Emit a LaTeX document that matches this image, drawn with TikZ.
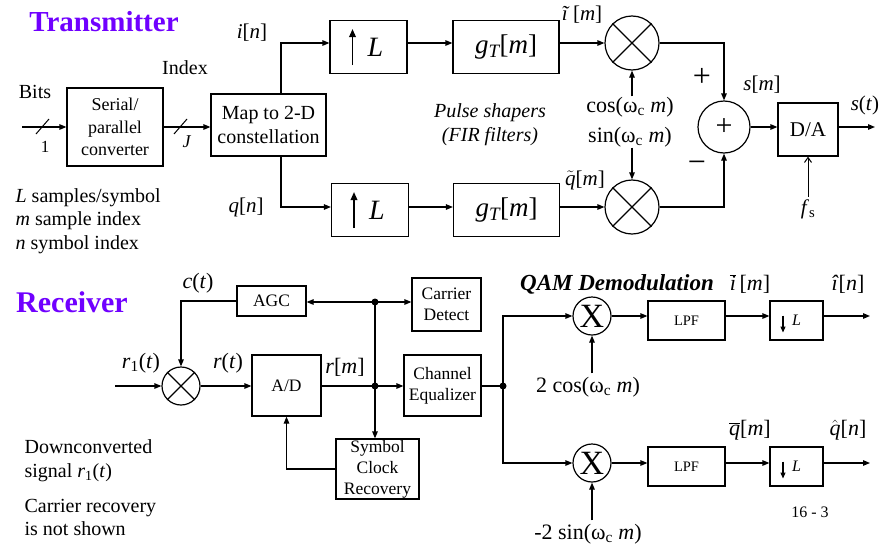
\documentclass[tikz,border=0pt]{standalone}
\usepackage{fontspec}
\setmainfont{Liberation Serif}
\usetikzlibrary{arrows.meta,calc}
\definecolor{titlecol}{RGB}{112,0,255}
\newcommand\fsz[2]{\fontsize{#1}{#2}\selectfont}
\newcommand\omc{ω\textsubscript{c}}
\begin{document}
\begin{tikzpicture}[x=1pt,y=-1pt,line width=1.2pt,
  blk/.style={draw,rectangle,inner sep=0pt,align=center},
  arr/.style={-{Triangle[length=7pt,width=5.5pt]}},
  uparr/.style={line width=1.7pt,-{Triangle[length=8pt,width=6.5pt]}},
  dnarr/.style={line width=1.1pt,-{Triangle[length=6pt,width=5pt]}},
  barb/.style={-{Straight Barb[length=5pt,width=7pt,line width=1pt]}},
  mult/.style={draw,circle,inner sep=0pt,minimum size=#1},
  lbl/.style={inner sep=0pt,font=\fsz{21}{25}},
  note/.style={inner sep=0pt,anchor=west,align=left,font=\fsz{20}{23.5}},
  dotn/.style={circle,fill,inner sep=0pt,minimum size=7pt},
  title/.style={inner sep=0pt,font=\fsz{29}{32}\bfseries,text=titlecol}]
\useasboundingbox (0,0) rectangle (882,546);
\coordinate (yi) at (0,43);
\coordinate (yq) at (0,207);
% ---------------- Transmitter ----------------
\node[title] (ttx) at (104,22) {Transmitter};
\node[lbl,font=\fsz{20}{24}] (bits) at (35,92) {Bits};
\node[lbl,font=\fsz{20}{24}] (index) at (185,68) {Index};
\node[blk,minimum width=96pt,minimum height=78pt,font=\fsz{18}{22.5}] (sp) at (115,127) {Serial/\\parallel\\converter};
\node[blk,minimum width=115pt,minimum height=62pt,font=\fsz{20}{24}] (map) at (268.5,125) {Map to 2-D\\constellation};
\coordinate (bin) at (22,127);
\draw[arr] (bin) -- (sp.west);
\draw[line width=1pt] (36,134) -- (49,119);
\node[lbl,font=\fsz{17}{20}] (one) at (45,147) {1};
\draw[arr] (sp.east) -- (map.west |- sp.east);
\draw[line width=1pt] (174,134) -- (187,119);
\node[lbl,font=\fsz{18}{20}] (jj) at (187,142) {\textit{J}};
\node[note] (legend) at (15,221) {\textit{L} samples/symbol\\\textit{m} sample index\\\textit{n} symbol index};
\coordinate (mapi) at (281,94);
\coordinate (mapq) at (281,156);
\node[lbl] (inl) at (252,33) {\textit{i}[\textit{n}]};
\node[lbl] (qnl) at (246,207) {\textit{q}[\textit{n}]};
\node[blk,minimum width=77pt,minimum height=53pt,font=\fsz{28}{30}] (upi) at (368.5,47) {\hspace*{14pt}\textit{L}};
\draw[uparr] ($(upi.center)+(-16,18)$) -- ++(0,-36);
\node[blk,minimum width=106pt,minimum height=53pt,font=\fsz{27}{30}] (gi) at (506,47) {\textit{g\textsubscript{T}}[\textit{m}]};
\node[blk,minimum width=77pt,minimum height=53pt,font=\fsz{28}{30}] (upq) at (370,210) {\hspace*{14pt}\textit{L}};
\draw[uparr] ($(upq.center)+(-16,18)$) -- ++(0,-36);
\node[blk,minimum width=106pt,minimum height=53pt,font=\fsz{27}{30}] (gq) at (506.5,210) {\textit{g\textsubscript{T}}[\textit{m}]};
\node[mult=54pt] (mi) at (632,43) {};
\draw (mi.north west) -- (mi.south east) (mi.north east) -- (mi.south west);
\node[mult=54pt] (mq) at (632,207) {};
\draw (mq.north west) -- (mq.south east) (mq.north east) -- (mq.south west);
\draw[arr] (mapi) |- (upi.west |- yi);
\draw[arr] (mapq) |- (upq.west |- yq);
\draw[arr] (upi.east |- yi) -- (gi.west |- yi);
\draw[arr] (upq.east |- yq) -- (gq.west |- yq);
\draw[arr] (gi.east |- yi) -- (mi.west);
\draw[arr] (gq.east |- yq) -- (mq.west);
\node[lbl] (itl) at (582,15) {\textit{ĩ}\,[\textit{m}]};
\node[lbl] (qtl) at (585,180) {$\tilde{\mbox{\textit{q}}}$[\textit{m}]};
\node[lbl,font=\fsz{20}{24}\itshape,align=center] (pulse) at (490,125) {Pulse shapers\\(FIR filters)};
\node[lbl,font=\fsz{22}{26}] (cosl) at (630,107) {cos(\omc{} \textit{m})};
\node[lbl,font=\fsz{22}{26}] (sinl) at (630,137) {sin(\omc{} \textit{m})};
\draw[arr] (cosl.north -| mi.south) -- (mi.south);
\draw[arr] (sinl.south -| mq.north) -- (mq.north);
\node[mult=52pt,font=\fsz{30}{30}] (sum) at (724,127) {+};
\draw[arr] (mi.east) -| (sum.north);
\draw[arr] (mq.east) -| (sum.south);
\node[lbl,font=\fsz{32}{32}] (plus) at (702,77) {+};
\node[lbl,font=\fsz{32}{32}] (minus) at (697,167) {−};
\node[lbl] (sml) at (762,85) {\textit{s}[\textit{m}]};
\node[blk,minimum width=60pt,minimum height=53pt,font=\fsz{21}{24}] (da) at (808,129.5) {D/A};
\draw[arr] (sum.east) -- (da.west |- sum.east);
\coordinate (sout) at (875,127);
\draw[arr] (da.east |- sum.east) -- (sout);
\node[lbl] (stl) at (865,105) {\textit{s}(\textit{t})};
\node[lbl] (fsl) at (808,209) {\textit{f}\textsubscript{s}};
\draw[barb,line width=1pt] (fsl.north) ++(0,-2) -- (da.south);
% ---------------- Receiver ----------------
\node[title,font=\fsz{30}{32}\bfseries] (trx) at (72,302) {Receiver};
\node[blk,minimum width=69pt,minimum height=30pt,font=\fsz{17.5}{21}] (agc) at (271.5,301) {AGC};
\node[blk,minimum width=69pt,minimum height=53pt,font=\fsz{17.5}{21}] (cd) at (446.5,304.5) {Carrier\\Detect};
\node[blk,minimum width=69pt,minimum height=61pt,font=\fsz{17.5}{21}] (ad) at (286.5,385.5) {A/D};
\node[blk,minimum width=77pt,minimum height=61pt,font=\fsz{17.5}{21}] (ceq) at (442.5,385.5) {Channel\\Equalizer};
\node[blk,minimum width=83pt,minimum height=60pt,font=\fsz{17.5}{21}] (scr) at (377.5,469) {Symbol\\Clock\\Recovery};
\node[mult=38pt] (mx) at (181,386) {};
\draw (mx.north west) -- (mx.south east) (mx.north east) -- (mx.south west);
\node[dotn] (d1) at (375,302) {};
\node[dotn] (d2) at (375,386) {};
\coordinate (rin) at (115,386);
\draw[arr] (rin) -- (mx.west);
\draw[arr] (mx.east) -- (ad.west |- mx.east);
\draw (ad.east |- d2) -- (d2.center);
\draw[arr] (d2.center) -- (ceq.west |- d2);
\draw (d1.center) -- (d2.center);
\draw[arr] (d2.center) -- (scr.north -| d2);
\draw[arr] (d1.center) -- (agc.east |- d1);
\draw[arr] (d1.center) -- (cd.west |- d1);
\draw[arr] (agc.west) -| (mx.north);
\draw[arr] (scr.west) -| (ad.south);
\node[lbl,font=\fsz{22}{26}] (ctl) at (198,283) {\textit{c}(\textit{t})};
\node[lbl,font=\fsz{22}{26}] (r1l) at (141,363) {\textit{r}\textsubscript{1}(\textit{t})};
\node[lbl,font=\fsz{22}{26}] (rtl) at (228,363) {\textit{r}(\textit{t})};
\node[lbl,font=\fsz{22}{26}] (rml) at (345,367) {\textit{r}[\textit{m}]};
\node[note] (down) at (24,460.5) {Downconverted\\signal \textit{r}\textsubscript{1}(\textit{t})};
\node[note] (carr) at (24,517.5) {Carrier recovery\\is not shown};
% ---------------- Demodulation ----------------
\node[lbl,font=\fsz{23}{26}\bfseries\itshape] (qam) at (617,284) {QAM Demodulation};
\node[dotn] (d3) at (503,386) {};
\draw (ceq.east |- d3) -- (d3.center);
\node[mult=38pt,font=\fsz{34}{34}] (xi) at (592,316) {X};
\node[mult=38pt,font=\fsz{34}{34}] (xq) at (592,463) {X};
\draw[arr] (d3.center) |- (xi.west);
\draw[arr] (d3.center) |- (xq.west);
\node[blk,minimum width=77pt,minimum height=39pt,font=\fsz{14.5}{18}] (lpfi) at (686.5,320.5) {LPF};
\node[blk,minimum width=77pt,minimum height=39pt,font=\fsz{14.5}{18}] (lpfq) at (686.5,466.5) {LPF};
\node[blk,minimum width=53pt,minimum height=39pt,font=\fsz{16}{18}] (dni) at (796.5,320.5) {\textit{L}};
\draw[dnarr] ($(dni.center)+(-13.5,-5)$) -- ++(0,17);
\node[blk,minimum width=53pt,minimum height=39pt,font=\fsz{16}{18}] (dnq) at (796.5,466.5) {\textit{L}};
\draw[dnarr] ($(dnq.center)+(-13.5,-5)$) -- ++(0,17);
\draw[arr] (xi.east) -- (lpfi.west |- xi.east);
\draw[arr] (xq.east) -- (lpfq.west |- xq.east);
\draw[arr] (lpfi.east |- xi) -- (dni.west |- xi);
\draw[arr] (lpfq.east |- xq) -- (dnq.west |- xq);
\coordinate (iout) at (870,316);
\coordinate (qout) at (870,463);
\draw[arr] (dni.east |- xi) -- (iout);
\draw[arr] (dnq.east |- xq) -- (qout);
\node[lbl,font=\fsz{22}{26}] (ibl) at (750,284) {$\overline{\mbox{\textit{i}}}$\,[\textit{m}]};
\node[lbl,font=\fsz{22}{26}] (ihl) at (848,284) {\textit{î}[\textit{n}]};
\node[lbl,font=\fsz{22}{26}] (qbl) at (750,430) {$\overline{\mbox{\textit{q}}}$[\textit{m}]};
\node[lbl,font=\fsz{22}{26}] (qhl) at (848,430) {$\hat{\mbox{\textit{q}}}$[\textit{n}]};
\node[lbl,font=\fsz{22}{26}] (c2l) at (588,387) {2 cos(\omc{} \textit{m})};
\node[lbl,font=\fsz{22}{26}] (s2l) at (588,534) {-2 sin(\omc{} \textit{m})};
\draw[arr] (c2l.north -| xi.south) ++(0,-3) -- (xi.south);
\draw[arr] (s2l.north -| xq.south) ++(0,-3) -- (xq.south);
\node[lbl,font=\fsz{16}{18}] (pg) at (810,512) {16 - 3};
\end{tikzpicture}
\end{document}
